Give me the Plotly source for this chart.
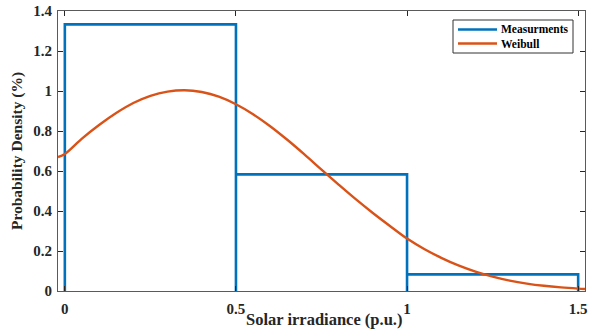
import plotly.graph_objects as go

# Histogram of measured irradiance (bin edges and densities)
bin_edges = [0.0, 0.5, 1.0, 1.5]
bin_density = [1.3333, 0.5833, 0.0833]

# Fitted Weibull density sampled along the x-range
weibull_x = [-0.02, 0.0, 0.05, 0.10, 0.15, 0.20, 0.25, 0.30, 0.35, 0.40, 0.45,
             0.50, 0.55, 0.60, 0.65, 0.70, 0.75, 0.80, 0.85, 0.90, 0.95, 1.00,
             1.05, 1.10, 1.15, 1.20, 1.25, 1.30, 1.35, 1.40, 1.45, 1.50, 1.52]
weibull_y = [0.670, 0.685, 0.762, 0.830, 0.890, 0.940, 0.976, 0.997, 1.004, 0.995, 0.972,
             0.934, 0.884, 0.824, 0.756, 0.683, 0.607, 0.532, 0.459, 0.390, 0.325, 0.262,
             0.210, 0.166, 0.128, 0.097, 0.072, 0.052, 0.037, 0.026, 0.018, 0.012, 0.010]

series_names = ["Measurments", "Weibull"]

x_ticks = [0, 0.5, 1, 1.5]
x_tick_text = ["0", "0.5", "1", "1.5"]
y_ticks = [0, 0.2, 0.4, 0.6, 0.8, 1.0, 1.2, 1.4]
y_tick_text = ["0", "0.2", "0.4", "0.6", "0.8", "1", "1.2", "1.4"]

# Outline of unfilled bars: each bar drawn up, across and back down
hx, hy = [], []
for i, h in enumerate(bin_density):
    left, right = bin_edges[i], bin_edges[i + 1]
    hx += [left, left, right, right]
    hy += [0, h, h, 0]

BLUE = "#0072BD"
ORANGE = "#D95319"
COLORS = [BLUE, ORANGE]
FONT = "Liberation Serif"
AXIS_COLOR = "#5a5a5a"
TEXT = "#262626"

W, H = 596, 329
ML, MR, MT, MB = 58, 11, 11, 38
PW, PH = W - ML - MR, H - MT - MB


def px_to_paper(px, py):
    return (px - ML) / PW, (H - MB - py) / PH


fig = go.Figure()
fig.add_trace(go.Scatter(x=hx, y=hy, mode="lines", name=series_names[0],
                         line=dict(color=BLUE, width=2.6), showlegend=False))
fig.add_trace(go.Scatter(x=weibull_x, y=weibull_y, mode="lines", name=series_names[1],
                         line=dict(color=ORANGE, width=2.4, shape="spline"),
                         showlegend=False))

axis_common = dict(showline=True, linecolor=AXIS_COLOR, linewidth=1, mirror="ticks",
                   ticks="inside", ticklen=5, tickcolor=TEXT, tickwidth=1,
                   showgrid=False, zeroline=False, automargin=False,
                   tickfont=dict(family=FONT, size=15, color=TEXT))

fig.update_xaxes(range=[-0.02, 1.52], tickvals=x_ticks,
                 ticktext=["<b>%s</b>" % t for t in x_tick_text],
                 ticklabelstandoff=4,
                 **axis_common)
fig.update_yaxes(range=[0, 1.4], tickvals=y_ticks,
                 ticktext=["<b>%s</b>" % t for t in y_tick_text],
                 ticklabelstandoff=2,
                 title=dict(text="<b>Probability Density (%)</b>", standoff=6,
                            font=dict(family=FONT, size=15.5, color=TEXT)),
                 **axis_common)

# Boxed legend in the upper-right corner
x0, y0 = px_to_paper(453, 20)
x1, y1 = px_to_paper(573, 53)
shapes = [dict(type="rect", xref="paper", yref="paper", x0=x0, y0=y0, x1=x1, y1=y1,
               line=dict(color="#333333", width=1), fillcolor="white", layer="above")]
annotations = []
for k, (name, col) in enumerate(zip(series_names, COLORS)):
    row_y = 29.5 + 14 * k
    lx0, ly = px_to_paper(458, row_y)
    lx1, _ = px_to_paper(497, row_y)
    shapes.append(dict(type="line", xref="paper", yref="paper", x0=lx0, x1=lx1,
                       y0=ly, y1=ly, line=dict(color=col, width=2.6), layer="above"))
    tx, _ = px_to_paper(499, row_y)
    annotations.append(dict(xref="paper", yref="paper", x=tx, y=ly, xanchor="left",
                            yanchor="middle", showarrow=False, text="<b>%s</b>" % name,
                            font=dict(family=FONT, size=11.5, color="black")))

# x-axis title placed just under the tick labels
tx, ty = px_to_paper(324, 319.5)
annotations.append(dict(xref="paper", yref="paper", x=tx, y=ty, xanchor="center",
                        yanchor="middle", showarrow=False,
                        text="<b>Solar irradiance (p.u.)</b>",
                        font=dict(family=FONT, size=16.5, color=TEXT)))

fig.update_layout(
    width=W, height=H,
    margin=dict(l=ML, r=MR, t=MT, b=MB),
    paper_bgcolor="white", plot_bgcolor="white",
    font=dict(family=FONT, size=15, color=TEXT),
    showlegend=False,
    shapes=shapes,
    annotations=annotations,
)

fig.write_html("out.html")
